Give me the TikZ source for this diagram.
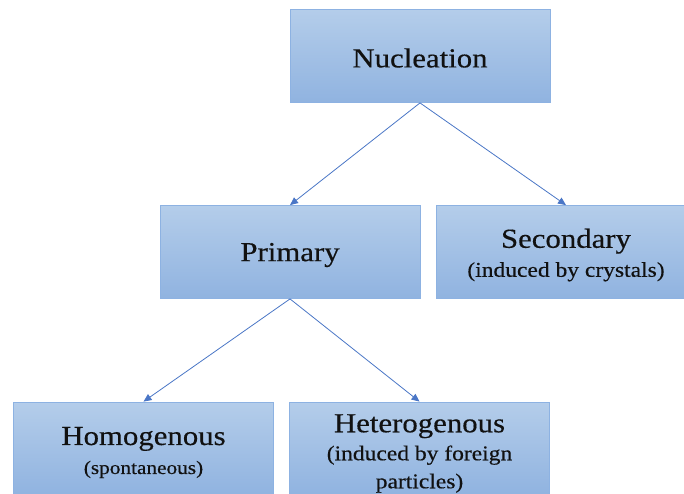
\documentclass[tikz,border=0pt]{standalone}
\usepackage{fontspec}
\setmainfont{Liberation Serif}[FakeStretch=1.12,FakeBold=0.4]
\usetikzlibrary{arrows.meta}
\definecolor{boxtop}{HTML}{B4CDEA}
\definecolor{boxbot}{HTML}{90B3E0}
\definecolor{boxline}{HTML}{8DB2E2}
\definecolor{arrowc}{HTML}{4A76C6}
\definecolor{txt}{HTML}{111111}
\tikzset{
  box/.style={rectangle, minimum width=260pt, minimum height=93pt, inner sep=0pt,
    top color=boxtop, bottom color=boxbot, draw=boxline, line width=0.8pt},
  lbl/.style={align=center, text=txt, inner sep=0pt, font=\fontsize{21}{29}\selectfont},
  conn/.style={draw=arrowc, line width=0.8pt, -{Triangle[length=8pt,width=7pt]}},
}
\newcommand{\ttl}[1]{{\fontsize{27.5}{30}\selectfont #1}}
\begin{document}
\begin{tikzpicture}[x=1pt,y=-1pt]
\useasboundingbox (0,0) rectangle (684,493);
\clip (0,0) rectangle (684,493);
\node[box] (nuc) at (420,56) {};
\node[box] (pri) at (290,252) {};
\node[box] (sec) at (566,252) {};
\node[box] (hom) at (143.5,448.5) {};
\node[box] (het) at (419.5,448.5) {};
\node[lbl] (nucT) at ([yshift=-2pt]nuc.center) {\ttl{Nucleation}};
\node[lbl] (priT) at ([yshift=-3pt]pri.center) {\ttl{Primary}};
\node[lbl] (secT) at ([yshift=-3pt]sec.center) {\ttl{Secondary}\\(induced by crystals)};
\node[lbl] (homT) at ([yshift=-4pt]hom.center) {\ttl{Homogenous}\\{\fontsize{19}{28}\selectfont(spontaneous)}};
\node[lbl, font=\fontsize{21}{28}\selectfont] (hetT) at ([yshift=-5pt]het.center) {\ttl{Heterogenous}\\(induced by foreign\\particles)};
\draw[conn] (nuc.south) -- (pri.north);
\draw[conn] (nuc.south) -- (sec.north);
\draw[conn] (pri.south) -- (hom.north);
\draw[conn] (pri.south) -- (het.north);
\end{tikzpicture}
\end{document}
